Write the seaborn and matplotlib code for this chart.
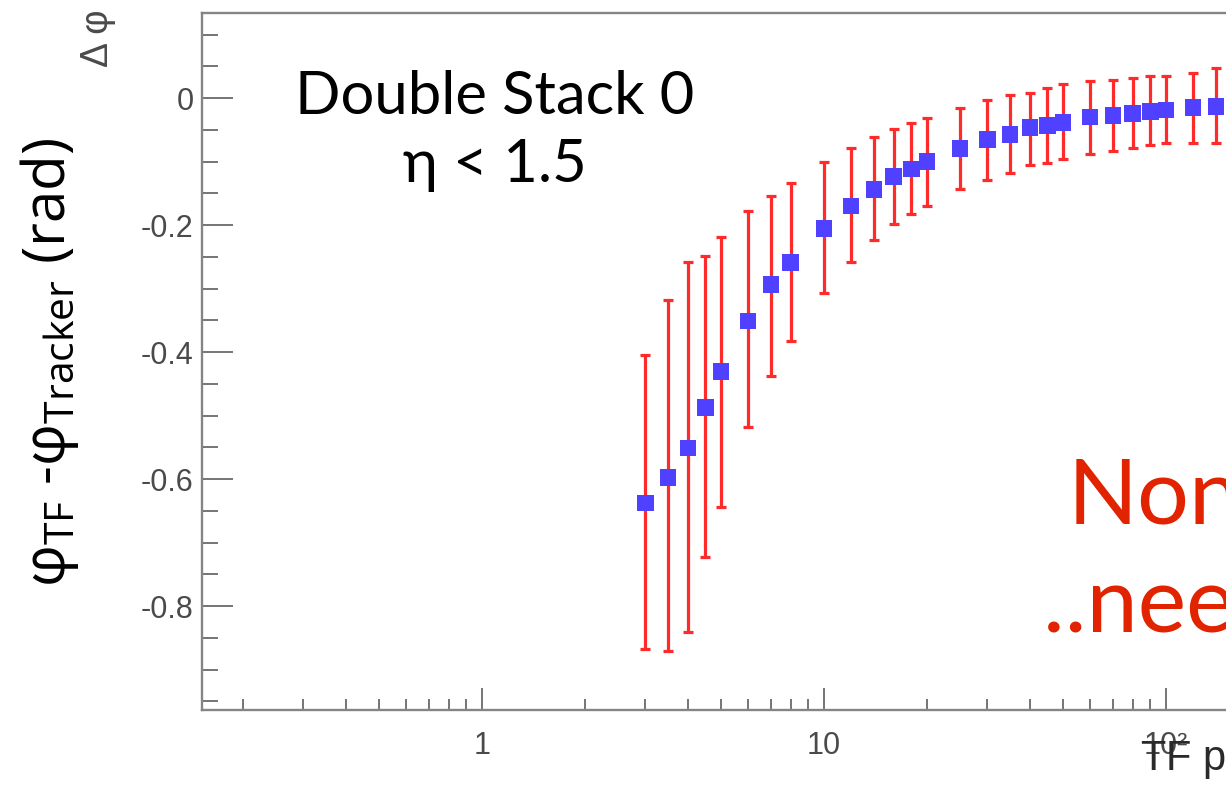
import numpy as np
import matplotlib
matplotlib.use("Agg")
import matplotlib.pyplot as plt
from matplotlib.ticker import FixedLocator, FixedFormatter, MultipleLocator, LogLocator, NullFormatter
import seaborn as sns

# ---- data ----
pt = [3, 3.5, 4, 4.5, 5, 6, 7, 8, 10, 12, 14, 16, 18, 20, 25, 30, 35, 40, 45, 50,
      60, 70, 80, 90, 100, 120, 140]
dphi = [-0.638, -0.598, -0.551, -0.487, -0.431, -0.351, -0.294, -0.259, -0.205, -0.170,
        -0.144, -0.124, -0.112, -0.100, -0.079, -0.065, -0.057, -0.047, -0.043, -0.039,
        -0.030, -0.027, -0.024, -0.021, -0.019, -0.015, -0.013]
dphi_low = [-0.868, -0.871, -0.841, -0.723, -0.644, -0.518, -0.438, -0.382, -0.307, -0.259,
            -0.224, -0.198, -0.183, -0.170, -0.143, -0.129, -0.118, -0.106, -0.102, -0.096,
            -0.088, -0.083, -0.079, -0.074, -0.071, -0.071, -0.071]
dphi_high = [-0.405, -0.318, -0.258, -0.249, -0.219, -0.178, -0.155, -0.134, -0.100, -0.079,
             -0.061, -0.049, -0.039, -0.031, -0.015, -0.003, 0.005, 0.008, 0.016, 0.022,
             0.027, 0.028, 0.031, 0.034, 0.035, 0.040, 0.047]

ytick_vals = [0, -0.2, -0.4, -0.6, -0.8]
ytick_labels = ["0", "-0.2", "-0.4", "-0.6", "-0.8"]
xtick_vals = [1, 10, 100]
xtick_labels = ["1", "10", "10²"]

# ---- style ----
sns.set_theme(style="white")
plt.rcParams["font.family"] = ["Liberation Sans", "DejaVu Sans"]
plt.rcParams["axes.unicode_minus"] = False

W, H = 1226, 790
fig = plt.figure(figsize=(W / 100, H / 100), dpi=100)
fig.patch.set_facecolor("white")

# axes frame extends past the right edge of the picture
ax = fig.add_axes([202 / W, 80 / H, 1306 / W, 697 / H])
ax.set_xscale("log")

y = np.array(dphi)
lo = y - np.array(dphi_low)
hi = np.array(dphi_high) - y
ax.errorbar(pt, dphi, yerr=[lo, hi], fmt="none", ecolor="#ff2b2b",
            elinewidth=2.3, capsize=3.5, capthick=2.3, zorder=2)
sns.scatterplot(x=pt, y=dphi, marker="s", s=145, color="#5040ff",
                edgecolor="none", linewidth=0, ax=ax, zorder=3)

ax.set_xlim(10 ** (-280 / 342), 1000)
ax.set_ylim(-(710 - 98) / 635, (98 - 13) / 635)

# ticks
ax.yaxis.set_major_locator(FixedLocator(ytick_vals))
ax.yaxis.set_major_formatter(FixedFormatter(ytick_labels))
ax.yaxis.set_minor_locator(MultipleLocator(0.05))
ax.xaxis.set_major_locator(FixedLocator(xtick_vals))
ax.xaxis.set_major_formatter(FixedFormatter(xtick_labels))
ax.xaxis.set_minor_locator(LogLocator(base=10, subs=np.arange(2, 10), numticks=50))
ax.xaxis.set_minor_formatter(NullFormatter())

tick_col = "#6a6a6a"
lab_col = "#4a4a4a"
ax.tick_params(axis="y", which="major", direction="in", length=22, width=1.3,
               color=tick_col, pad=6, labelsize=22, labelcolor=lab_col,
               left=True, right=False)
ax.tick_params(axis="y", which="minor", direction="in", length=11.5, width=1.3,
               color=tick_col, left=True, right=False)
ax.tick_params(axis="x", which="major", direction="in", length=16, width=1.3,
               color=tick_col, pad=15, labelsize=22, labelcolor=lab_col,
               bottom=True, top=False)
ax.tick_params(axis="x", which="minor", direction="in", length=8, width=1.3,
               color=tick_col, bottom=True, top=False)

for sp in ax.spines.values():
    sp.set_color("#858585")
    sp.set_linewidth(1.7)

# ROOT axis title
ax.set_ylabel("Δ φ", fontsize=27, color="#4a4a4a", loc="top")
ax.yaxis.set_label_coords((116 - 202) / 1306, (710 - 10) / 697)
ax.set_xlabel("")
fig.text(1140 / W, 1 - 770 / H, r"TF p$_\mathregular{t}$", fontsize=30, color="#2a2a2a",
         ha="left", va="baseline")

# slide annotations
fig.text(50 / W, 1 - 362 / H,
         r"φ$_\mathregular{TF}$ -φ$_\mathregular{Tracker}$ (rad)",
         rotation=90, ha="center", va="center", fontsize=42, color="black",
         family=["Open Sans", "DejaVu Sans"])
fig.text(495 / W, 1 - 97 / H, "Double Stack 0", ha="center", va="center",
         fontsize=43, color="black", family=["Lato", "Open Sans"])
fig.text(495 / W, 1 - 165 / H, "η < 1.5", ha="center", va="center",
         fontsize=43, color="black", family=["Lato", "Open Sans"])
red = "#e12300"
fig.text(1068 / W, 1 - 523 / H, "Non-linear", ha="left", va="baseline",
         fontsize=66, color=red, family=["Lato", "Open Sans"])
fig.text(1043 / W, 1 - 632 / H, "..needs correction", ha="left", va="baseline",
         fontsize=66, color=red, family=["Lato", "Open Sans"])

fig.savefig("out.png", dpi=100)
